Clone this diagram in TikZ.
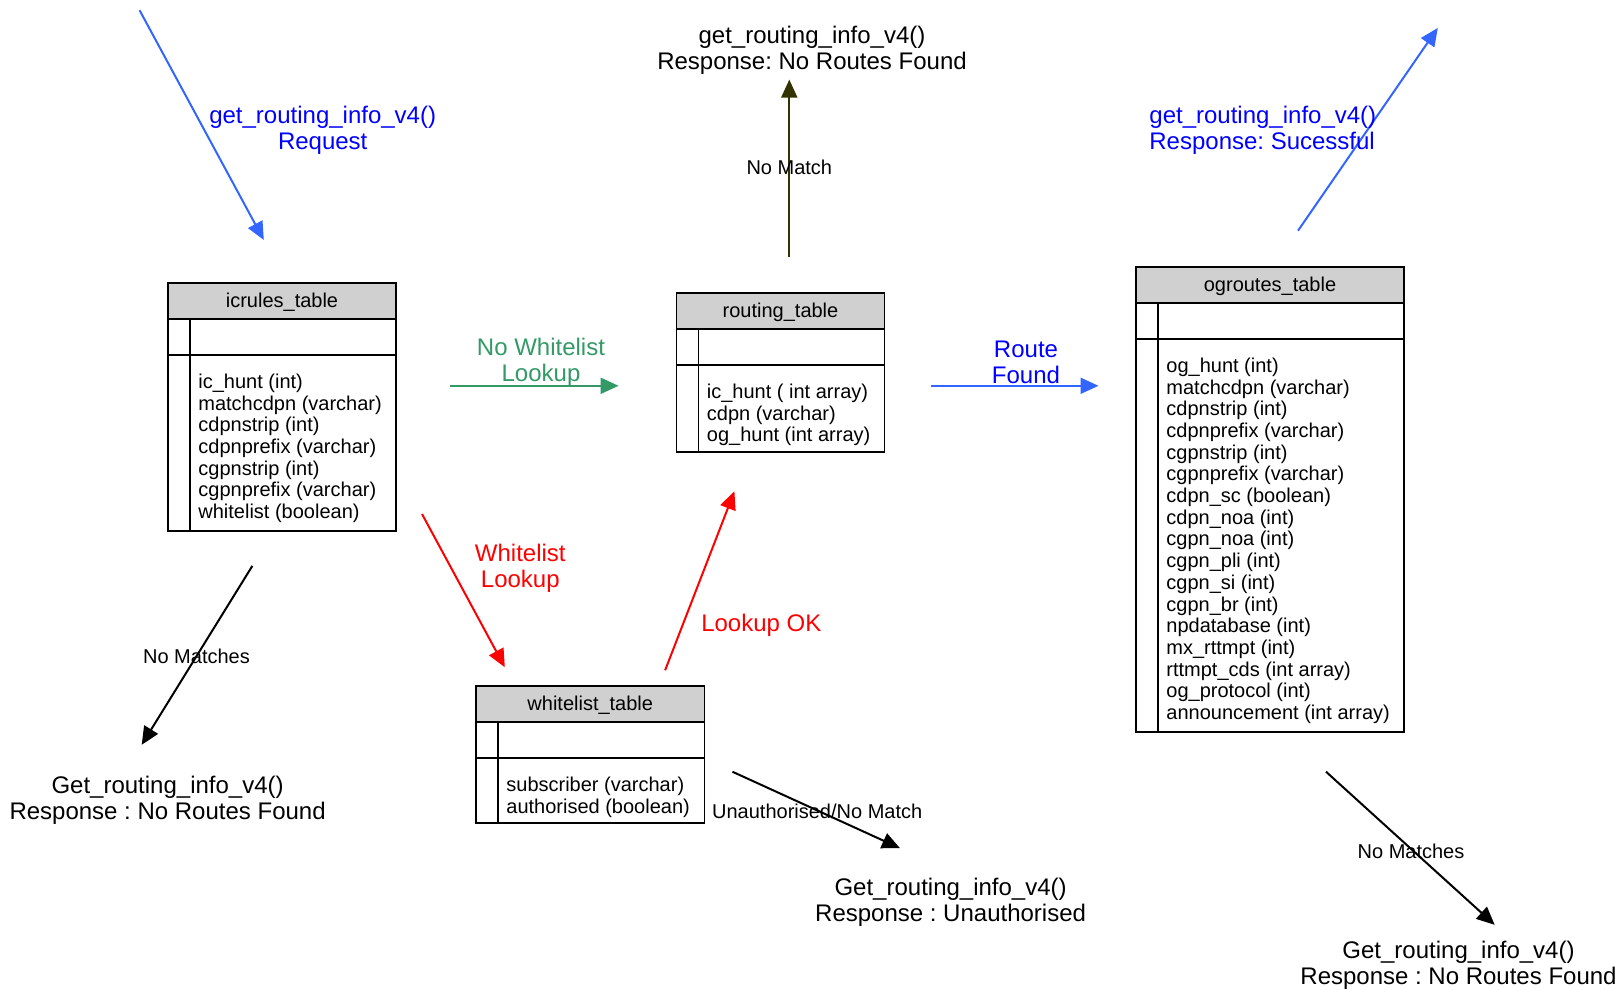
\documentclass[tikz,border=0pt]{standalone}
\usepackage{fontspec}
\setmainfont{Liberation Sans}
\usetikzlibrary{arrows.meta,positioning,calc}
\definecolor{reqblue}{HTML}{3366FF}
\definecolor{txtblue}{HTML}{0000FF}
\definecolor{wlgreen}{HTML}{339966}
\definecolor{nmolive}{HTML}{333300}
\definecolor{hdrgray}{HTML}{D0D0D0}
\tikzset{
  tabtext/.style={inner sep=0pt, font=\fontsize{10}{10.85}\selectfont},
  biglabel/.style={inner sep=0pt, align=center, font=\fontsize{12}{13}\selectfont},
  smalllabel/.style={inner sep=0pt, font=\fontsize{10}{11}\selectfont},
  flow/.style={line width=1pt, -{Triangle[length=9pt,width=8pt]}}
}
% name, left, top, right, bottom, title, fields
\newcommand{\dbtable}[7]{%
  \filldraw[fill=hdrgray, line width=0.7pt] (#2,#3) rectangle (#4,{#3+36});
  \draw[line width=0.7pt] (#2,{#3+36}) rectangle (#4,#5);
  \draw[line width=0.7pt] (#2,{#3+72}) -- (#4,{#3+72});
  \draw[line width=0.7pt] ({#2+22},{#3+36}) -- ({#2+22},#5);
  \node[tabtext] (#1-title) at ({(#2+#4)/2},{#3+19}) {#6};
  \node[tabtext, anchor=north west, align=left] (#1-fields) at ({#2+30},{#3+90.5}) {#7};
}
\frenchspacing

\begin{document}
\begin{tikzpicture}[x=0.5pt, y=-0.5pt]
      \useasboundingbox (0,0) rectangle (1622,990);

      % tables
      \dbtable{icrules}{168}{283}{396}{531}{icrules\_table}{ic\_hunt (int)\\matchcdpn (varchar)\\cdpnstrip (int)\\cdpnprefix (varchar)\\cgpnstrip (int)\\cgpnprefix (varchar)\\whitelist (boolean)}
      \dbtable{routing}{676.5}{293}{884.5}{452}{routing\_table}{ic\_hunt ( int array)\\cdpn (varchar)\\og\_hunt (int array)}
      \dbtable{ogroutes}{1136}{267}{1404}{732}{ogroutes\_table}{og\_hunt (int)\\matchcdpn (varchar)\\cdpnstrip (int)\\cdpnprefix (varchar)\\cgpnstrip (int)\\cgpnprefix (varchar)\\cdpn\_sc (boolean)\\cdpn\_noa (int)\\cgpn\_noa (int)\\cgpn\_pli (int)\\cgpn\_si (int)\\cgpn\_br (int)\\npdatabase (int)\\mx\_rttmpt (int)\\rttmpt\_cds (int array)\\og\_protocol (int)\\announcement (int array)}
      \dbtable{whitelist}{476}{686}{704.5}{823}{whitelist\_table}{subscriber (varchar)\\authorised (boolean)}

      % arrow end points
      \coordinate (reqA) at (139.6,10.3);
      \coordinate (reqB) at (263.8,240);
      \coordinate (okA) at (1298,230.7);
      \coordinate (okB) at (1437.8,27.9);
      \coordinate (nmA) at (789.3,256.5);
      \coordinate (nmB) at (789.3,79.6);
      \coordinate (nwlA) at (450,385.8);
      \coordinate (nwlB) at (618.6,385.8);
      \coordinate (rfA) at (931,385.8);
      \coordinate (rfB) at (1098.5,385.8);
      \coordinate (wlA) at (422,514);
      \coordinate (wlB) at (504.8,667.2);
      \coordinate (lokA) at (665.1,670.3);
      \coordinate (lokB) at (734.4,491.3);
      \coordinate (lnmA) at (252.4,565.8);
      \coordinate (lnmB) at (141.7,744.8);
      \coordinate (unA) at (732.4,771.7);
      \coordinate (unB) at (900,848.2);
      \coordinate (rnmA) at (1326,771.7);
      \coordinate (rnmB) at (1494.7,924.8);

      % arrows
      \draw[flow, reqblue] (reqA) -- (reqB);
      \draw[flow, reqblue] (okA) -- (okB);
      \draw[flow, nmolive] (nmA) -- (nmB);
      \draw[flow, wlgreen] (nwlA) -- (nwlB);
      \draw[flow, reqblue] (rfA) -- (rfB);
      \draw[flow, red] (wlA) -- (wlB);
      \draw[flow, red] (lokA) -- (lokB);
      \draw[flow, black] (lnmA) -- (lnmB);
      \draw[flow, black] (unA) -- (unB);
      \draw[flow, black] (rnmA) -- (rnmB);

      % labels
      \node[biglabel, txtblue] (reqlabel) at (322.7,130) {get\_routing\_info\_v4()\\Request};
      \node[biglabel, txtblue, align=left, anchor=west] (oklabel) at (1149,130.7) {get\_routing\_info\_v4()\\Response: Sucessful};
      \node[biglabel] (nrtop) at (812,50) {get\_routing\_info\_v4()\\Response: No Routes Found};
      \node[smalllabel] (nmlabel) at (789.3,167) {No Match};
      \node[biglabel, wlgreen] (nwllabel) at (541,362.5) {No Whitelist\\Lookup};
      \node[biglabel, txtblue] (rflabel) at (1026,362.5) {Route\\Found};
      \node[biglabel, red] (wllabel) at (520.3,568.3) {Whitelist\\Lookup};
      \node[biglabel, red] (loklabel) at (761.3,625.7) {Lookup OK};
      \node[smalllabel] (lnmlabel) at (196.5,656.5) {No Matches};
      \node[biglabel] (nrleft) at (167.6,800) {Get\_routing\_info\_v4()\\Response : No Routes Found};
      \node[smalllabel] (unlabel) at (817.2,811.5) {Unauthorised/No Match};
      \node[biglabel] (unauth) at (950.6,902.5) {Get\_routing\_info\_v4()\\Response : Unauthorised};
      \node[smalllabel] (rnmlabel) at (1411,851) {No Matches};
      \node[biglabel] (nrright) at (1458.5,965.5) {Get\_routing\_info\_v4()\\Response : No Routes Found};
\end{tikzpicture}
\end{document}
